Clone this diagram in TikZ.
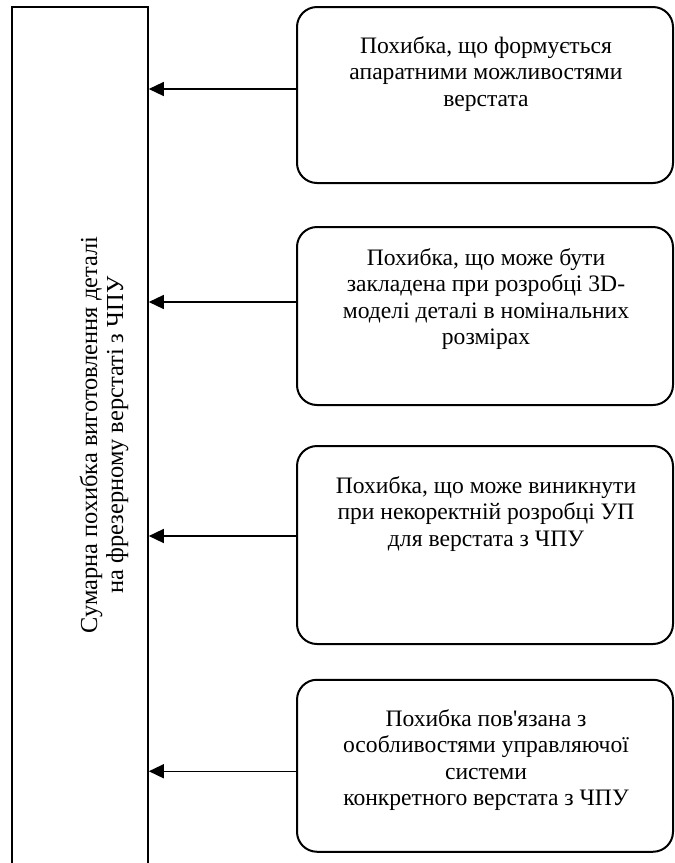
\documentclass[tikz,border=0pt]{standalone}
\usepackage{fontspec}
\setmainfont{Liberation Serif}
\usepackage{tikz}
\usetikzlibrary{positioning, arrows.meta}

\begin{document}
\begin{tikzpicture}[x=0.5pt, y=-0.5pt, thick,
    errbox/.style={draw, rectangle, rounded corners=10pt, line width=1pt, minimum width=188pt},
    errtext/.style={align=center, inner sep=0pt, font=\fontsize{11.8}{13.2}\selectfont},
    arr/.style={{Triangle[length=7.5pt, width=7pt]}-, line width=0.7pt}]
    \clip (0,0) rectangle (675,863);
    % Define the summary block
    \node[draw, rectangle, line width=0.8pt, minimum width=68pt, minimum height=446.5pt] (main) at (80,453.5) {};
    \node[errtext, rotate=90, font=\fontsize{12.2}{13}\selectfont] (sum) at (104,435) {Сумарна похибка виготовлення деталі\\на фрезерному верстаті з ЧПУ};

    % Define the error sources
    \node[errbox, minimum height=88pt] (b1) at (485,95) {};
    \node[errbox, minimum height=89pt] (b2) at (485,316) {};
    \node[errbox, minimum height=99pt] (b3) at (485,545) {};
    \node[errbox, minimum height=86pt] (b4) at (485,765.75) {};
    \node[errtext] (t1) at (486,74) {Похибка, що формується\\апаратними можливостями\\верстата};
    \node[errtext] (t2) at (486,299) {Похибка, що може бути\\закладена при розробці 3D-\\моделі деталі в номінальних\\розмірах};
    \node[errtext] (t3) at (486,514) {Похибка, що може виникнути\\при некоректній розробці УП\\для верстата з ЧПУ};
    \node[errtext] (t4) at (486,760) {Похибка пов\textquotesingle язана з\\особливостями управляючої\\системи\\конкретного верстата з ЧПУ};

    % Define the arrows
    \coordinate (a1) at ([yshift=3pt]b1.west);
    \coordinate (a2) at ([yshift=7pt]b2.west);
    \coordinate (a3) at ([yshift=4.5pt]b3.west);
    \coordinate (a4) at ([yshift=-2.75pt]b4.west);
    \draw[arr] (a1 -| main.east) -- (a1);
    \draw[arr] (a2 -| main.east) -- (a2);
    \draw[arr] (a3 -| main.east) -- (a3);
    \draw[arr] (a4 -| main.east) -- (a4);
\end{tikzpicture}
\end{document}
